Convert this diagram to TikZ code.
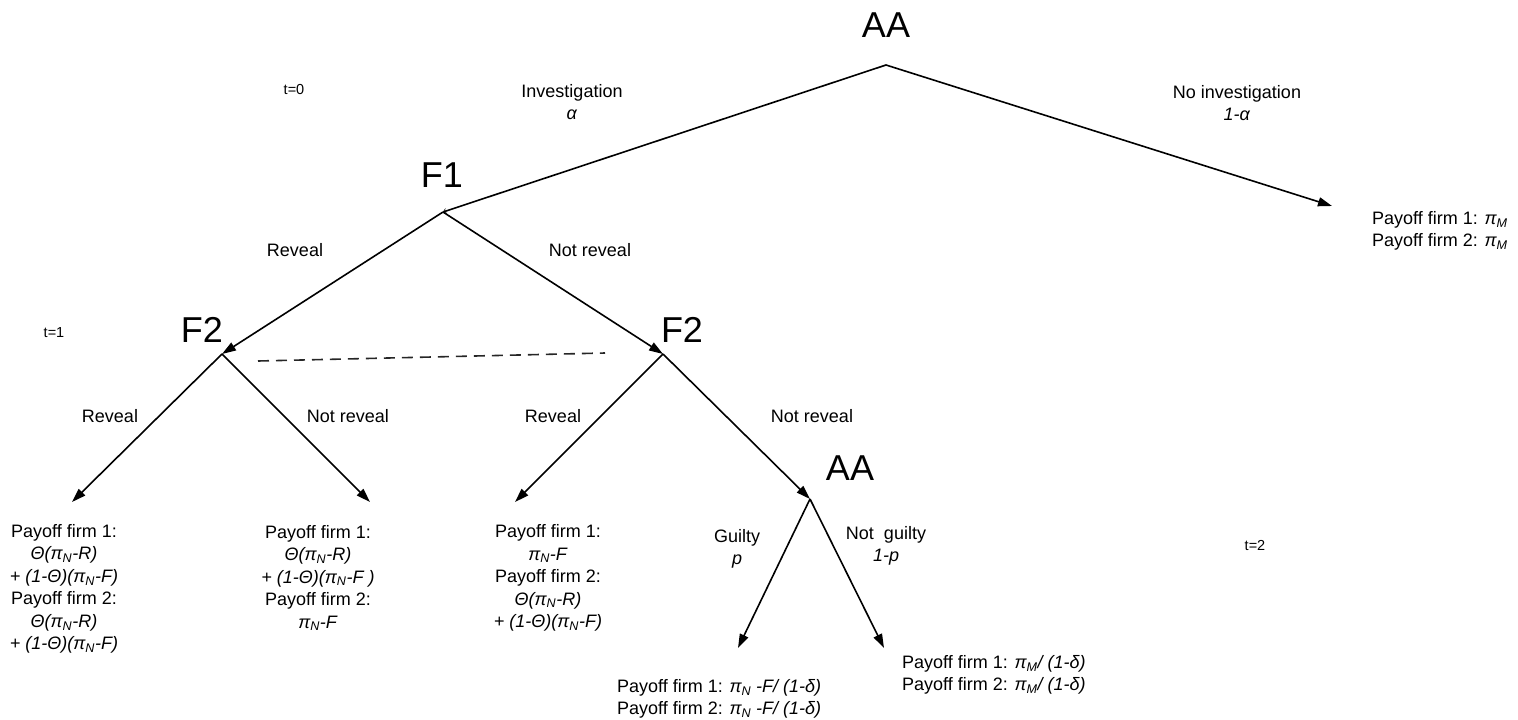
\documentclass[tikz,border=0pt]{standalone}
\usepackage{fontspec}
\setmainfont{Liberation Sans}
\usetikzlibrary{arrows.meta}

\newcommand{\piN}{π\textsubscript{N}}
\newcommand{\piM}{π\textsubscript{M}}

\begin{document}
\begin{tikzpicture}[
    x=1pt, y=-1pt,
    % === STYLES ===
    player/.style={
        font=\fontsize{36}{40}\selectfont,
        inner sep=0pt
    },
    move/.style={
        -{Triangle[length=14pt,width=9pt]},
        line width=1.6pt,
        color=black
    },
    branch/.style={
        font=\fontsize{18}{22.5}\selectfont,
        align=center,
        inner sep=0pt
    },
    payoff/.style={
        font=\fontsize{18}{22.5}\selectfont,
        align=#1,
        inner sep=0pt
    },
    payoff/.default=center,
    period/.style={
        font=\fontsize{14.5}{17}\selectfont,
        inner sep=0pt
    },
    infoset/.style={
        dash pattern=on 11pt off 7pt,
        line width=1.6pt,
        color=black!85
    }
]
\useasboundingbox (0,0) rectangle (1518,720);

% === DECISION POINTS ===
\coordinate (aa) at (886,65);
\coordinate (f1) at (443,212);
\coordinate (f2l) at (222,354);
\coordinate (f2r) at (663,354);
\coordinate (aa2) at (810,499);
\coordinate (noinv) at (1332,206);
\coordinate (ll) at (72,502);
\coordinate (lr) at (370,502);
\coordinate (rl) at (515,502);
\coordinate (gl) at (738,648);
\coordinate (ng) at (884,648);

% Player labels
\node[player] (aa_lbl) at (886,25) {AA};
\node[player] (f1_lbl) at (442,175) {F1};
\node[player] (f2l_lbl) at (202,330) {F2};
\node[player] (f2r_lbl) at (682,330) {F2};
\node[player] (aa2_lbl) at (850,468) {AA};

% === MOVES ===
\draw[line width=1.6pt, -{Straight Barb[length=3pt,width=5pt,line width=0.5pt]}] (aa) -- (f1);
\draw[move] (aa) -- (noinv);
\draw[move] (f1) -- (f2l);
\draw[move] (f1) -- (f2r);
\draw[move] (f2l) -- (ll);
\draw[move] (f2l) -- (lr);
\draw[move] (f2r) -- (rl);
\draw[move] (f2r) -- (aa2);
\draw[move] (aa2) -- (gl);
\draw[move] (aa2) -- (ng);

% Information set
\coordinate (is_a) at (258,361);
\coordinate (is_b) at (605,353);
\draw[infoset] (is_a) -- (is_b);

% === BRANCH LABELS ===
\node[branch] (inv) at (572,102) {Investigation\\\textit{α}};
\node[branch] (noinv_lbl) at (1237,103) {No investigation\\\textit{1-α}};
\node[branch] (rev1) at (295,250) {Reveal};
\node[branch] (nrev1) at (590,250) {Not reveal};
\node[branch] (rev2) at (110,416) {Reveal};
\node[branch] (nrev2) at (348,416) {Not reveal};
\node[branch] (rev3) at (553,416) {Reveal};
\node[branch] (nrev3) at (812,416) {Not reveal};
\node[branch] (guilty) at (737,549) {Guilty\\\textit{p}};
\node[branch] (nguilty) at (886,546) {Not\ \ guilty\\\textit{1-p}};

% Periods
\node[period] (t0) at (294,90) {t=0};
\node[period] (t1) at (54,333) {t=1};
\node[period] (t2) at (1255,545) {t=2};

% === PAYOFFS ===
\node[payoff, anchor=west] (pay_ni) at (1372,231)
    {Payoff firm 1: \textit{\piM}\\Payoff firm 2: \textit{\piM}};
\node[payoff] (pay_rr) at (64,589)
    {Payoff firm 1:\\\textit{Θ(\piN-R)}\\\textit{+ (1-Θ)(\piN-F)}\\Payoff firm 2:\\\textit{Θ(\piN-R)}\\\textit{+ (1-Θ)(\piN-F)}};
\node[payoff] (pay_rn) at (318,578)
    {Payoff firm 1:\\\textit{Θ(\piN-R)}\\\textit{+ (1-Θ)(\piN-F )}\\Payoff firm 2:\\\textit{\piN-F}};
\node[payoff] (pay_nr) at (548,578)
    {Payoff firm 1:\\\textit{\piN-F}\\Payoff firm 2:\\\textit{Θ(\piN-R)}\\\textit{+ (1-Θ)(\piN-F)}};
\node[payoff=left, anchor=west] (pay_g) at (617,699)
    {Payoff firm 1: \textit{\piN\ -F/ (1-δ)}\\Payoff firm 2: \textit{\piN\ -F/ (1-δ)}};
\node[payoff=left, anchor=west] (pay_ng) at (902,675)
    {Payoff firm 1: \textit{\piM/ (1-δ)}\\Payoff firm 2: \textit{\piM/ (1-δ)}};

\end{tikzpicture}
\end{document}
